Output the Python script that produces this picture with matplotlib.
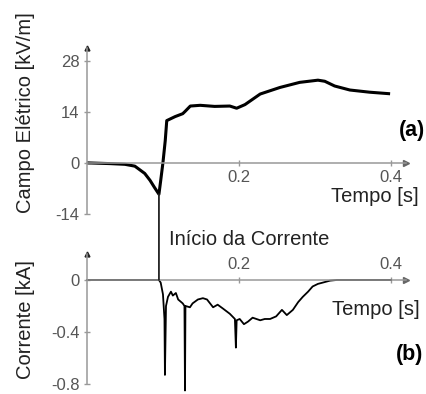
import matplotlib
matplotlib.use('Agg')
import matplotlib.pyplot as plt
from matplotlib.patches import ConnectionPatch

plt.rcParams['font.family'] = ['Liberation Sans', 'DejaVu Sans']

# Campo eletrico (a)
t_campo = [0, 0.030, 0.050, 0.063, 0.076, 0.083, 0.089, 0.0947, 0.097, 0.100,
           0.103, 0.105, 0.116, 0.126, 0.129, 0.136, 0.149, 0.168, 0.188, 0.197,
           0.208, 0.228, 0.254, 0.280, 0.304, 0.313, 0.326, 0.346, 0.372, 0.397]
campo = [-0.1, -0.3, -0.5, -1.0, -3.0, -4.9, -6.9, -8.7, -5.0, 0.0,
         6.0, 11.5, 12.6, 13.4, 14.0, 15.5, 15.7, 15.4, 15.5, 14.9,
         15.9, 18.8, 20.6, 22.0, 22.6, 22.3, 21.0, 19.9, 19.3, 18.9]

# Corrente (b)
t_corr = [0, 0.070, 0.0947, 0.097, 0.100, 0.102, 0.1026, 0.104, 0.1066, 0.1105,
          0.113, 0.117, 0.120, 0.126, 0.1283, 0.129, 0.1296, 0.1355, 0.139, 0.146,
          0.1526, 0.158, 0.166, 0.172, 0.179, 0.188, 0.1947, 0.196, 0.197, 0.201,
          0.2066, 0.212, 0.218, 0.228, 0.234, 0.241, 0.249, 0.2566, 0.263, 0.271,
          0.278, 0.284, 0.291, 0.297, 0.304, 0.3105, 0.320, 0.329, 0.400]
corrente = [0, 0, 0, -0.02, -0.11, -0.30, -0.73, -0.20, -0.13, -0.09,
            -0.12, -0.10, -0.15, -0.18, -0.20, -0.85, -0.20, -0.21, -0.18, -0.15,
            -0.14, -0.15, -0.21, -0.19, -0.22, -0.26, -0.30, -0.52, -0.31, -0.30,
            -0.34, -0.32, -0.29, -0.31, -0.30, -0.30, -0.28, -0.23, -0.27, -0.23,
            -0.17, -0.13, -0.09, -0.05, -0.03, -0.02, -0.005, 0, 0]

t_inicio = 0.0947
campo_inicio = -8.7

yticks_campo = [-14, 0, 14, 28]
yticks_corr = [-0.8, -0.4, 0]
xticks = [0.2, 0.4]

axis_color = '#999999'
label_color = '#555555'

fig = plt.figure(figsize=(4.26, 3.94), dpi=100)
ax1 = fig.add_axes([0.2042, 0.4581, 0.749, 0.4207])
ax2 = fig.add_axes([0.2042, 0.0254, 0.749, 0.33])

ax1.plot(t_campo, campo, color='black', lw=2.2)
ax1.set_xlim(0, 0.42)
ax1.set_ylim(-14, 31.5)
ax1.spines['top'].set_visible(False)
ax1.spines['right'].set_visible(False)
ax1.spines['bottom'].set_position(('data', 0))
ax1.set_xticks(xticks)
ax1.set_xticklabels(['0.2', '0.4'])
ax1.set_yticks(yticks_campo)
ax1.set_yticklabels(['-14', '0', '14', '28'])

ax2.plot(t_corr, corrente, color='black', lw=1.3, clip_on=False)
ax2.set_xlim(0, 0.42)
ax2.set_ylim(-0.8, 0.2)
ax2.spines['bottom'].set_visible(False)
ax2.spines['right'].set_visible(False)
ax2.spines['top'].set_position(('data', 0))
ax2.xaxis.set_ticks_position('top')
ax2.xaxis.set_label_position('top')
ax2.set_xticks(xticks)
ax2.set_xticklabels(['0.2', '0.4'])
ax2.set_yticks(yticks_corr)
ax2.set_yticklabels(['-0.8', '-0.4', '0'])

for ax in (ax1, ax2):
    for s in ax.spines.values():
        s.set_color(axis_color)
        s.set_linewidth(1.1)
    ax.tick_params(direction='inout', length=5, width=1, color=axis_color,
                   labelcolor=label_color, labelsize=12, pad=3)
    ax.set_facecolor('none')
    ax.plot(1, 0, '>', color='#666666', ms=4, transform=ax.get_yaxis_transform(), clip_on=False)
    ax.plot(0, 1, '^', color='#222222', ms=3.5, transform=ax.get_xaxis_transform(), clip_on=False)

con = ConnectionPatch(xyA=(t_inicio, campo_inicio), coordsA=ax1.transData,
                      xyB=(t_inicio, 0), coordsB=ax2.transData,
                      color='#222222', lw=1.3)
fig.add_artist(con)

fig.text(0.059, 0.713, 'Campo Elétrico [kV/m]', rotation=90, ha='center', va='center',
         fontsize=14.5, color='#222222')
fig.text(0.059, 0.19, 'Corrente [kA]', rotation=90, ha='center', va='center',
         fontsize=14.5, color='#222222')
fig.text(0.397, 0.393, 'Início da Corrente', ha='left', va='center', fontsize=14.5,
         color='#222222')
fig.text(0.983, 0.5, 'Tempo [s]', ha='right', va='center', fontsize=14.5, color='#222222')
fig.text(0.986, 0.215, 'Tempo [s]', ha='right', va='center', fontsize=14.5, color='#222222')
fig.text(0.998, 0.67, '(a)', ha='right', va='center', fontsize=15.5, fontweight='bold')
fig.text(0.993, 0.1, '(b)', ha='right', va='center', fontsize=15.5, fontweight='bold')

fig.savefig('out.png', dpi=100)
